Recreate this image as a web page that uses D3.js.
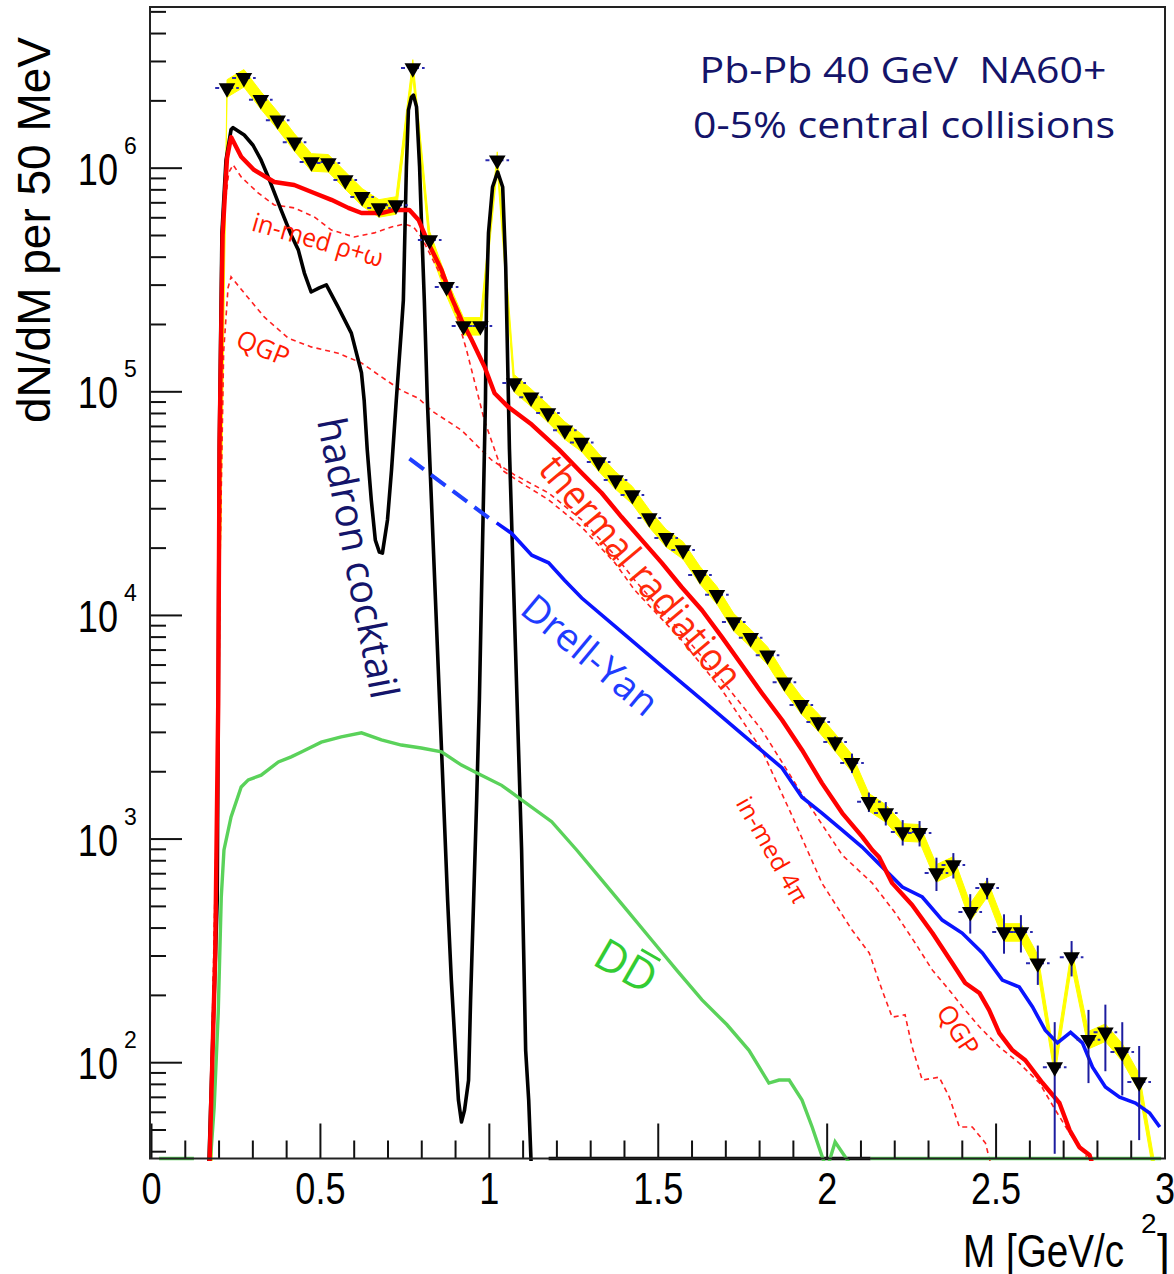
<!DOCTYPE html>
<html>
<head>
<meta charset="utf-8">
<script src="https://cdn.jsdelivr.net/npm/d3@7"></script>
<style>
  body { margin: 0; background: #fff; }
  svg { display: block; }
</style>
</head>
<body>
<div id="chart"></div>
<script>
// ---- axis ranges and ticks ----
var xDomain = [0, 3];
var yDomain = [37.1, 5.23e6];
var xMajor = [0, 0.5, 1, 1.5, 2, 2.5, 3];
var xMinor = [0.1, 0.2, 0.3, 0.4, 0.6, 0.7, 0.8, 0.9, 1.1, 1.2, 1.3, 1.4, 1.6, 1.7, 1.8, 1.9,
              2.1, 2.2, 2.3, 2.4, 2.6, 2.7, 2.8, 2.9];
var yMajorExp = [2, 3, 4, 5, 6];

// ---- NA60+ pseudo-data (50 MeV bins) ----
var dataM = [0.175, 0.225, 0.275, 0.325, 0.375, 0.425, 0.475, 0.525, 0.575, 0.625, 0.675, 0.725,
             0.775, 0.825, 0.875, 0.925, 0.975, 1.025, 1.075, 1.125, 1.175, 1.225, 1.275, 1.325,
             1.375, 1.425, 1.475, 1.525, 1.575, 1.625, 1.675, 1.725, 1.775, 1.825, 1.875, 1.925,
             1.975, 2.025, 2.075, 2.125, 2.175, 2.225, 2.275, 2.325, 2.375, 2.425, 2.475, 2.525,
             2.575, 2.625, 2.675, 2.725, 2.775, 2.825, 2.875, 2.925, 2.975];
var dataV = [10, 2.27e6, 2.52e6, 2.01e6, 1.63e6, 1.30e6, 1.06e6, 1.05e6, 8.8e5, 7.4e5, 6.6e5, 6.8e5,
             2.79e6, 4.75e5, 2.93e5, 1.96e5, 1.96e5, 1.08e6, 1.09e5, 9.4e4, 8.0e4, 6.7e4, 5.9e4, 4.83e4,
             4.01e4, 3.44e4, 2.71e4, 2.21e4, 1.95e4, 1.51e4, 1.23e4, 9.3e3, 7.9e3, 6.6e3, 5.0e3, 3.96e3,
             3.32e3, 2.70e3, 2.18e3, 1.46e3, 1.30e3, 1.07e3, 1.06e3, 702, 762, 470, 601, 382,
             382, 277, 95, 295, 126, 136, 111, 81.5, 30];
var dataRelErr = [0, 0.02, 0.02, 0.02, 0.02, 0.02, 0.02, 0.02, 0.02, 0.02, 0.02, 0.02,
                  0.02, 0.02, 0.02, 0.02, 0.02, 0.02, 0.02, 0.02, 0.02, 0.02, 0.02, 0.02,
                  0.02, 0.02, 0.02, 0.03, 0.03, 0.03, 0.03, 0.03, 0.03, 0.03, 0.04, 0.04,
                  0.05, 0.06, 0.10, 0.10, 0.12, 0.13, 0.13, 0.17, 0.13, 0.20, 0.11, 0.20,
                  0.19, 0.20, 0.59, 0.18, 0.36, 0.33, 0.36, 0.45, 0];
var dataHalfBin = 0.035;
var sysFrac = 0.09;

// ---- model curves [M, dN/dM] ----
var cocktail = [
  [0.170, 30], [0.184, 144], [0.196, 531], [0.199, 4.17e3], [0.202, 5.5e4], [0.210, 5.11e5],
  [0.222, 1.08e6], [0.237, 1.48e6], [0.243, 1.51e6], [0.276, 1.40e6], [0.302, 1.26e6],
  [0.326, 1.08e6], [0.347, 9.09e5], [0.385, 6.47e5], [0.415, 5.0e5], [0.436, 4.29e5],
  [0.454, 3.38e5], [0.474, 2.78e5], [0.498, 2.90e5], [0.519, 2.99e5], [0.554, 2.38e5],
  [0.593, 1.82e5], [0.623, 1.21e5], [0.631, 9.1e4], [0.640, 5.5e4], [0.652, 3.27e4],
  [0.664, 2.16e4], [0.676, 1.91e4], [0.685, 1.89e4], [0.700, 2.66e4], [0.712, 4.45e4],
  [0.726, 9.1e4], [0.741, 1.88e5], [0.747, 2.56e5], [0.756, 1.01e6], [0.762, 1.81e6],
  [0.771, 2.07e6], [0.777, 2.11e6], [0.786, 1.87e6], [0.795, 1.01e6], [0.800, 6.03e5],
  [0.809, 2.56e5], [0.818, 9.1e4], [0.830, 3.27e4], [0.842, 1.17e4], [0.854, 4.17e3],
  [0.866, 1.49e3], [0.878, 531], [0.889, 233], [0.901, 113], [0.910, 67.7], [0.919, 54],
  [0.928, 61], [0.940, 83], [0.946, 190], [0.955, 531], [0.964, 1.49e3], [0.972, 4.17e3],
  [0.978, 1.17e4], [0.984, 3.27e4], [0.990, 9.1e4], [0.993, 2.56e5], [0.999, 5.11e5],
  [1.011, 8.2e5], [1.026, 9.57e5], [1.041, 8.2e5], [1.050, 3.6e5], [1.055, 1.53e5],
  [1.061, 5.5e4], [1.070, 1.95e4], [1.079, 6.97e3], [1.088, 2.49e3], [1.097, 889],
  [1.103, 318], [1.109, 113], [1.118, 67.7], [1.127, 30], [1.150, null], [1.177, 0], [2.130, 0]
];

var thermal = [
  [0.172, 30], [0.190, 300], [0.199, 4.0e3], [0.203, 6.0e4], [0.212, 5.0e5], [0.225, 1.1e6],
  [0.237, 1.37e6], [0.267, 1.12e6], [0.305, 9.77e5], [0.365, 8.63e5], [0.424, 8.37e5],
  [0.483, 7.71e5], [0.534, 7.18e5], [0.584, 6.61e5], [0.623, 6.27e5], [0.682, 6.27e5],
  [0.720, 6.47e5], [0.765, 6.47e5], [0.792, 5.84e5], [0.821, 4.60e5], [0.860, 3.49e5],
  [0.889, 2.64e5], [0.919, 2.08e5], [0.949, 1.70e5], [0.987, 1.29e5], [1.017, 9.8e4],
  [1.058, 8.5e4], [1.127, 7.1e4], [1.207, 5.5e4], [1.275, 4.31e4], [1.334, 3.51e4],
  [1.393, 2.74e4], [1.453, 2.16e4], [1.512, 1.71e4], [1.571, 1.33e4], [1.631, 1.05e4],
  [1.690, 7.96e3], [1.749, 5.97e3], [1.808, 4.48e3], [1.868, 3.39e3], [1.927, 2.49e3],
  [1.986, 1.77e3], [2.046, 1.30e3], [2.105, 1.02e3], [2.135, 889], [2.155, 827], [2.194, 632],
  [2.253, 505], [2.313, 378], [2.372, 277], [2.410, 226], [2.452, 204], [2.481, 171],
  [2.511, 135], [2.550, 113], [2.588, 102], [2.639, 80.7], [2.689, 65.7], [2.719, 49.7],
  [2.748, 41.7], [2.778, 38.5], [2.800, 30]
];

var rhoOmega = [
  [0.172, 30], [0.199, 3.0e3], [0.205, 1.0e5], [0.215, 6.0e5], [0.230, 9.5e5], [0.243, 1.03e6],
  [0.267, 9.09e5], [0.317, 7.71e5], [0.365, 6.81e5], [0.424, 6.61e5], [0.483, 6.03e5],
  [0.534, 5.26e5], [0.602, 4.9e5], [0.661, 5.11e5], [0.712, 5.43e5], [0.750, 5.6e5],
  [0.777, 5.43e5], [0.800, 4.9e5], [0.830, 3.99e5], [0.860, 3.25e5], [0.889, 2.64e5],
  [0.934, 1.53e5], [0.987, 7.4e4], [1.038, 4.45e4], [1.106, 3.81e4], [1.177, 3.27e4],
  [1.275, 2.47e4], [1.373, 1.71e4], [1.432, 1.29e4], [1.571, 7.7e3], [1.690, 4.62e3],
  [1.808, 2.49e3], [1.897, 1.27e3], [1.986, 632], [2.075, 390], [2.126, 308], [2.164, 210],
  [2.194, 159], [2.232, 163], [2.253, 117], [2.283, 83.2], [2.333, 85.7], [2.363, 69.8],
  [2.393, 51.3], [2.431, 51.3], [2.470, 43.5], [2.490, 33]
];

var qgp = [
  [0.172, 30], [0.199, 2.0e3], [0.205, 2.0e4], [0.215, 1.5e5], [0.228, 2.9e5], [0.237, 3.25e5],
  [0.276, 2.75e5], [0.335, 2.15e5], [0.406, 1.73e5], [0.474, 1.58e5], [0.554, 1.48e5],
  [0.623, 1.34e5], [0.682, 1.16e5], [0.741, 1.01e5], [0.792, 9.3e4], [0.830, 8.2e4],
  [0.919, 6.7e4], [1.008, 4.93e4], [1.076, 4.23e4], [1.177, 3.51e4], [1.275, 2.66e4],
  [1.373, 1.85e4], [1.432, 1.43e4], [1.571, 8.3e3], [1.690, 5.1e3], [1.808, 3.06e3],
  [1.927, 1.58e3], [2.046, 844], [2.135, 632], [2.203, 465], [2.262, 341], [2.313, 258],
  [2.363, 210], [2.410, 171], [2.452, 144], [2.511, 117], [2.570, 99], [2.630, 80.7],
  [2.677, 61.1], [2.719, 48.2], [2.757, 40.5], [2.787, 34]
];

var drellYanExtrap = [[0.765, 5.0e4], [1.008, 2.66e4]];
var drellYan = [
  [1.023, 2.58e4], [1.067, 2.32e4], [1.127, 1.85e4], [1.177, 1.71e4], [1.224, 1.43e4],
  [1.275, 1.19e4], [1.393, 8.4e3], [1.512, 5.9e3], [1.631, 4.17e3], [1.749, 2.94e3],
  [1.868, 2.07e3], [1.927, 1.53e3], [1.986, 1.30e3], [2.046, 1.09e3], [2.105, 916],
  [2.164, 747], [2.224, 607], [2.283, 548], [2.342, 432], [2.401, 378], [2.461, 308],
  [2.520, 233], [2.570, 217], [2.609, 177], [2.647, 139], [2.683, 122], [2.722, 136],
  [2.757, 122], [2.787, 95], [2.825, 77.4], [2.867, 69.8], [2.914, 65.7], [2.956, 59.3],
  [2.986, 51.3]
];

var openCharm = [
  [0.024, 0], [0.127, 0], [0.150, null],
  [0.172, 30], [0.187, 63], [0.199, 166], [0.208, 547], [0.216, 889], [0.237, 1.25e3],
  [0.267, 1.70e3], [0.288, 1.83e3], [0.326, 1.92e3], [0.377, 2.20e3], [0.415, 2.32e3],
  [0.445, 2.44e3], [0.504, 2.70e3], [0.563, 2.85e3], [0.623, 2.97e3], [0.682, 2.76e3],
  [0.741, 2.62e3], [0.800, 2.54e3], [0.860, 2.44e3], [0.919, 2.13e3], [0.978, 1.92e3],
  [1.038, 1.73e3], [1.097, 1.49e3], [1.186, 1.19e3], [1.260, 889], [1.334, 653],
  [1.408, 480], [1.482, 352], [1.556, 258], [1.631, 190], [1.705, 147], [1.770, 113],
  [1.829, 80.7], [1.859, 83.2], [1.889, 83.2], [1.927, 67.7], [1.957, 51.3], [1.986, 38.1],
  [2.000, 33], [2.025, 44], [2.081, 33], [2.110, null], [2.130, 0], [2.990, 0]
];

// ---- layout ----
var width = 1174, height = 1274;
var frame = {left: 150, right: 1165, top: 7, bottom: 1158.5};
var axisFont = "'Liberation Sans', Arial, sans-serif";
var textFont = "'Open Sans', 'Noto Sans', sans-serif";
var narrow = 0.82;   // ROOT labels are a condensed Helvetica

var svg = d3.select("#chart").append("svg")
    .attr("width", width)
    .attr("height", height);

var x = d3.scaleLinear().domain(xDomain).range([151, 1164.5]);
var y = d3.scaleLog().domain(yDomain).range([frame.bottom, frame.top]);

// zero bins sit on the lower frame, like ROOT does on a log axis
var yv = function(v) { return v > 0 ? y(v) : frame.bottom; };

function condense(sel, f) {
  sel.each(function() {
    var w = this.getComputedTextLength();
    d3.select(this).attr("textLength", w * f).attr("lengthAdjust", "spacingAndGlyphs");
  });
}

svg.append("clipPath").attr("id", "plotclip")
  .append("rect")
    .attr("x", frame.left).attr("y", frame.top)
    .attr("width", frame.right - frame.left)
    .attr("height", frame.bottom - frame.top + 2.5);

var plot = svg.append("g").attr("clip-path", "url(#plotclip)");

var line = d3.line()
    .defined(function(d) { return d[1] !== null; })
    .x(function(d) { return x(d[0]); })
    .y(function(d) { return yv(d[1]); });

var data = dataM.map(function(m, i) {
  return {m: m, v: dataV[i], e: dataV[i] * dataRelErr[i]};
});

// yellow systematic band
plot.append("path")
    .datum(data)
    .attr("fill", "#ffff00")
    .attr("stroke", "#ffff00")
    .attr("stroke-width", 1)
    .attr("d", d3.area()
      .x(function(d) { return x(d.m); })
      .y0(function(d) { return y(d.v * (1 - sysFrac)); })
      .y1(function(d) { return y(d.v * (1 + sysFrac)); }));

// thin dashed thermal components
[rhoOmega, qgp].forEach(function(s) {
  plot.append("path")
      .datum(s)
      .attr("fill", "none")
      .attr("stroke", "#ff2020")
      .attr("stroke-width", 1.6)
      .attr("stroke-dasharray", "5,4")
      .attr("d", line);
});

// hadron cocktail
plot.append("path")
    .datum(cocktail)
    .attr("fill", "none")
    .attr("stroke", "#000")
    .attr("stroke-width", 3.6)
    .attr("stroke-linejoin", "round")
    .attr("d", line);

// open charm
plot.append("path")
    .datum(openCharm)
    .attr("fill", "none")
    .attr("stroke", "#5ad25a")
    .attr("stroke-width", 3.4)
    .attr("d", line);

// Drell-Yan
plot.append("path")
    .datum(drellYan)
    .attr("fill", "none")
    .attr("stroke", "#0a14ff")
    .attr("stroke-width", 3.6)
    .attr("d", line);

plot.append("path")
    .datum(drellYanExtrap)
    .attr("fill", "none")
    .attr("stroke", "#1f3fff")
    .attr("stroke-width", 4)
    .attr("stroke-dasharray", "18,9")
    .attr("d", line);

// total thermal radiation
plot.append("path")
    .datum(thermal)
    .attr("fill", "none")
    .attr("stroke", "#ff0000")
    .attr("stroke-width", 4.4)
    .attr("stroke-linejoin", "round")
    .attr("d", line);

// error bars and markers
var shown = data.filter(function(d) { return d.v >= yDomain[0]; });

plot.append("g").selectAll("line")
    .data(shown)
    .enter().append("line")
      .attr("x1", function(d) { return x(d.m); })
      .attr("x2", function(d) { return x(d.m); })
      .attr("y1", function(d) { return y(d.v + d.e); })
      .attr("y2", function(d) { return yv(d.v - d.e); })
      .attr("stroke", "#1c1ca0")
      .attr("stroke-width", 2);

plot.append("g").selectAll("line")
    .data(shown)
    .enter().append("line")
      .attr("x1", function(d) { return x(d.m - dataHalfBin); })
      .attr("x2", function(d) { return x(d.m + dataHalfBin); })
      .attr("y1", function(d) { return y(d.v); })
      .attr("y2", function(d) { return y(d.v); })
      .attr("stroke", "#2a2ab0")
      .attr("stroke-width", 2)
      .attr("stroke-dasharray", "4,3");

plot.append("g").selectAll("path")
    .data(shown)
    .enter().append("path")
      .attr("d", d3.symbol(d3.symbolTriangle, 120))
      .attr("transform", function(d) {
        return "translate(" + x(d.m) + "," + y(d.v) + ") rotate(180)";
      })
      .attr("fill", "#000");

// ---- axes ----
function styleAxis(g) {
  g.select(".domain").remove();
  g.selectAll(".tick line").attr("stroke", "#111").attr("stroke-width", 2);
}

svg.append("g")
    .attr("transform", "translate(0," + frame.bottom + ")")
    .call(d3.axisBottom(x).tickValues(xMinor).tickSize(-18).tickFormat(""))
    .call(styleAxis);

svg.append("g")
    .attr("transform", "translate(0," + frame.bottom + ")")
    .call(d3.axisBottom(x).tickValues(xMajor).tickSize(-35).tickPadding(14)
      .tickFormat(d3.format("")))
    .call(styleAxis)
    .call(function(g) {
      g.selectAll("text")
        .attr("fill", "#000")
        .style("font-family", axisFont)
        .style("font-size", "44px")
        .call(condense, narrow);
    });

var minorY = y.ticks().filter(function(t) {
  var l = Math.log10(t);
  return Math.abs(l - Math.round(l)) > 1e-6;
});
svg.append("g")
    .attr("transform", "translate(" + frame.left + ",0)")
    .call(d3.axisLeft(y).tickValues(minorY).tickSize(-16).tickFormat(""))
    .call(styleAxis);

svg.append("g")
    .attr("transform", "translate(" + frame.left + ",0)")
    .call(d3.axisLeft(y).tickValues(yMajorExp.map(function(e) { return Math.pow(10, e); }))
      .tickSize(-32).tickFormat(""))
    .call(styleAxis);

var yLab = svg.append("g").selectAll("g")
    .data(yMajorExp)
    .enter().append("g");
yLab.append("text")
    .attr("x", 118)
    .attr("y", function(e) { return y(Math.pow(10, e)) + 17; })
    .attr("text-anchor", "end")
    .style("font-family", axisFont)
    .style("font-size", "44px")
    .text("10")
    .call(condense, narrow);
yLab.append("text")
    .attr("x", 124)
    .attr("y", function(e) { return y(Math.pow(10, e)) - 14; })
    .style("font-family", axisFont)
    .style("font-size", "23px")
    .text(function(e) { return e; });

// frame
svg.append("rect")
    .attr("x", frame.left).attr("y", frame.top)
    .attr("width", frame.right - frame.left)
    .attr("height", frame.bottom - frame.top)
    .attr("fill", "none")
    .attr("stroke", "#222")
    .attr("stroke-width", 2);

// axis titles
svg.append("text")
    .attr("transform", "translate(50,230) rotate(-90)")
    .attr("text-anchor", "middle")
    .style("font-family", axisFont)
    .style("font-size", "46px")
    .text("dN/dM per 50 MeV");

svg.append("text")
    .attr("x", 963).attr("y", 1267)
    .style("font-family", axisFont)
    .style("font-size", "46px")
    .text("M [GeV/c")
    .call(condense, 0.84);
svg.append("text")
    .attr("x", 1141).attr("y", 1233)
    .style("font-family", axisFont)
    .style("font-size", "28px")
    .text("2");
svg.append("text")
    .attr("x", 1157).attr("y", 1267)
    .style("font-family", axisFont)
    .style("font-size", "46px")
    .text("]");

// ---- annotations ----
svg.append("text")
    .attr("x", 903).attr("y", 83)
    .attr("text-anchor", "middle")
    .attr("textLength", 407).attr("lengthAdjust", "spacingAndGlyphs")
    .style("white-space", "pre")
    .style("font-family", textFont).style("font-size", "36px")
    .attr("fill", "#14146a")
    .text("Pb-Pb 40 GeV  NA60+");
svg.append("text")
    .attr("x", 904).attr("y", 138)
    .attr("text-anchor", "middle")
    .attr("textLength", 422).attr("lengthAdjust", "spacingAndGlyphs")
    .style("font-family", textFont).style("font-size", "36px")
    .attr("fill", "#14146a")
    .text("0-5% central collisions");

function note(txt, cx, cy, angle, size, color, len) {
  var t = svg.append("text")
      .attr("transform", "translate(" + cx + "," + cy + ") rotate(" + angle + ")")
      .attr("text-anchor", "middle")
      .attr("dy", "0.35em")
      .style("font-family", textFont)
      .style("font-size", size + "px")
      .attr("fill", color)
      .text(txt);
  if (len) t.attr("textLength", len).attr("lengthAdjust", "spacingAndGlyphs");
  return t;
}

note("hadron cocktail", 358, 558, 79, 40, "#14146a", 285);
note("thermal radiation", 641, 572, 50, 40, "#ff2a0a", 290);
note("Drell-Yan", 590, 655, 40, 38, "#1f3cff", 165);
note("in-med \u03c1+\u03c9", 318, 240, 16, 26, "#ff1a00", 135);
note("QGP", 263, 348, 22, 26, "#ff1a00");
note("in-med 4\u03c0", 772, 850, 60, 24, "#ff1a00", 118);
note("QGP", 958, 1030, 57, 26, "#ff1a00");

// D Dbar
var dd = svg.append("g").attr("transform", "translate(626,966) rotate(30)");
dd.append("text")
    .attr("text-anchor", "middle")
    .attr("dy", "0.35em")
    .style("font-family", textFont)
    .style("font-size", "44px")
    .attr("fill", "#33cc33")
    .text("DD");
dd.append("line")
    .attr("x1", 5).attr("x2", 27)
    .attr("y1", -22).attr("y2", -22)
    .attr("stroke", "#33cc33")
    .attr("stroke-width", 3);
</script>
</body>
</html>
